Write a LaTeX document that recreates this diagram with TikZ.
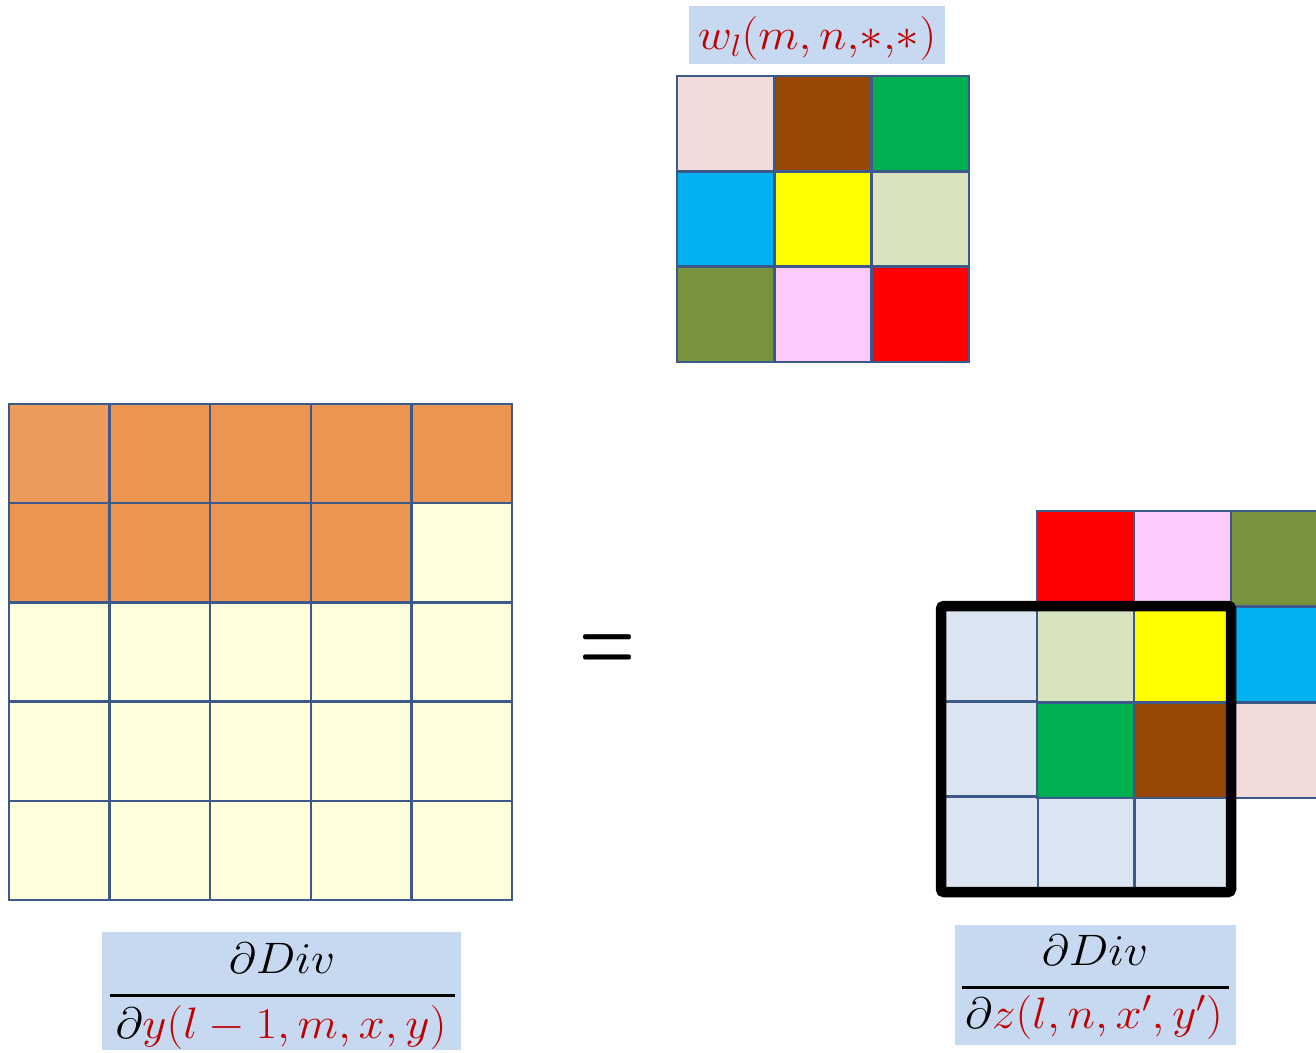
\documentclass[tikz,border=0pt]{standalone}
\usepackage{fix-cm}
\usepackage{graphicx}
\definecolor{kA}{HTML}{F2DCDB}
\definecolor{kB}{HTML}{974806}
\definecolor{kC}{HTML}{00B050}
\definecolor{kD}{HTML}{00B0F0}
\definecolor{kE}{HTML}{FFFF00}
\definecolor{kF}{HTML}{D7E4BD}
\definecolor{kG}{HTML}{77933C}
\definecolor{kH}{HTML}{FCCBFC}
\definecolor{kI}{HTML}{FF0000}
\definecolor{orA}{HTML}{EB9B5C}
\definecolor{orB}{HTML}{EA9652}
\definecolor{lyel}{HTML}{FFFFDB}
\definecolor{lblue}{HTML}{DCE6F2}
\definecolor{labblue}{HTML}{C6D9F1}
\definecolor{gridc}{HTML}{3B5A8A}
\definecolor{dred}{HTML}{C00000}
\newcommand{\bigmath}[1]{\fontsize{44}{48}\selectfont\scalebox{1.07}[1]{$#1$}}
\begin{document}
\begin{tikzpicture}[x=1pt,y=-1pt,
  cellbox/.style={fill=#1,draw=gridc,line width=2.5pt},
  labbox/.style={fill=labblue,inner sep=0pt},
  txt/.style={inner sep=0pt,anchor=center}]
\clip (0,0) rectangle (1316,1052);
\fill[white] (0,0) rectangle (1316,1052);

% left grid 5x5
\foreach \c [count=\k from 0] in {orA,orB,orB,orB,orB, orB,orB,orB,orB,lyel, lyel,lyel,lyel,lyel,lyel, lyel,lyel,lyel,lyel,lyel, lyel,lyel,lyel,lyel,lyel}{
  \pgfmathtruncatemacro\i{mod(\k,5)}
  \pgfmathtruncatemacro\j{div(\k,5)}
  \filldraw[cellbox=\c] ({9+\i*100.6},{404+\j*99.2}) rectangle ++(100.6,99.2);
}

% top kernel 3x3
\foreach \c [count=\k from 0] in {kA,kB,kC,kD,kE,kF,kG,kH,kI}{
  \pgfmathtruncatemacro\i{mod(\k,3)}
  \pgfmathtruncatemacro\j{div(\k,3)}
  \filldraw[cellbox=\c] ({677+\i*97.3},{76+\j*95.3}) rectangle ++(97.3,95.3);
}

% z grid 3x3
\foreach \k in {0,...,8}{
  \pgfmathtruncatemacro\i{mod(\k,3)}
  \pgfmathtruncatemacro\j{div(\k,3)}
  \filldraw[cellbox=lblue] ({941+\i*96.8},{606+\j*95.3}) rectangle ++(96.8,95.3);
}

% flipped kernel
\foreach \c [count=\k from 0] in {kI,kH,kG,kF,kE,kD,kC,kB,kA}{
  \pgfmathtruncatemacro\i{mod(\k,3)}
  \pgfmathtruncatemacro\j{div(\k,3)}
  \filldraw[cellbox=\c] ({1037+\i*97},{511+\j*95.7}) rectangle ++(97,95.7);
}

% black box
\draw[line width=10.5pt,rounded corners=3pt] (941,606) rectangle (1231,892);

% equals sign
\node[txt] (eq) at (607,653) {\fontsize{64}{70}\selectfont\bfseries\scalebox{1}[1.45]{=}};

% top label
\node[labbox,minimum width=256pt,minimum height=58pt] (wbox) at (817,35) {};
\node[txt,text=dred] (wlab) at (817,39) {\bigmath{w_l(m,n{,}{*}{,}{*})}};

% left label
\node[labbox,minimum width=359pt,minimum height=118pt] (ybox) at (281.5,991) {};
\node[txt] (ynum) at (282,958) {\bigmath{\partial Div}};
\draw[line width=3pt] (110,995) -- (455,995);
\node[txt] (yden) at (281,1027) {\bigmath{\partial{\color{dred}y(l-1,m,x,y)}}};

% right label
\node[labbox,minimum width=281pt,minimum height=120pt] (zbox) at (1095.5,985) {};
\node[txt] (znum) at (1095,950) {\bigmath{\partial Div}};
\draw[line width=3pt] (962,987) -- (1229,987);
\node[txt] (zden) at (1094,1017) {\bigmath{\partial{\color{dred}z(l,n,x',y')}}};
\end{tikzpicture}
\end{document}
